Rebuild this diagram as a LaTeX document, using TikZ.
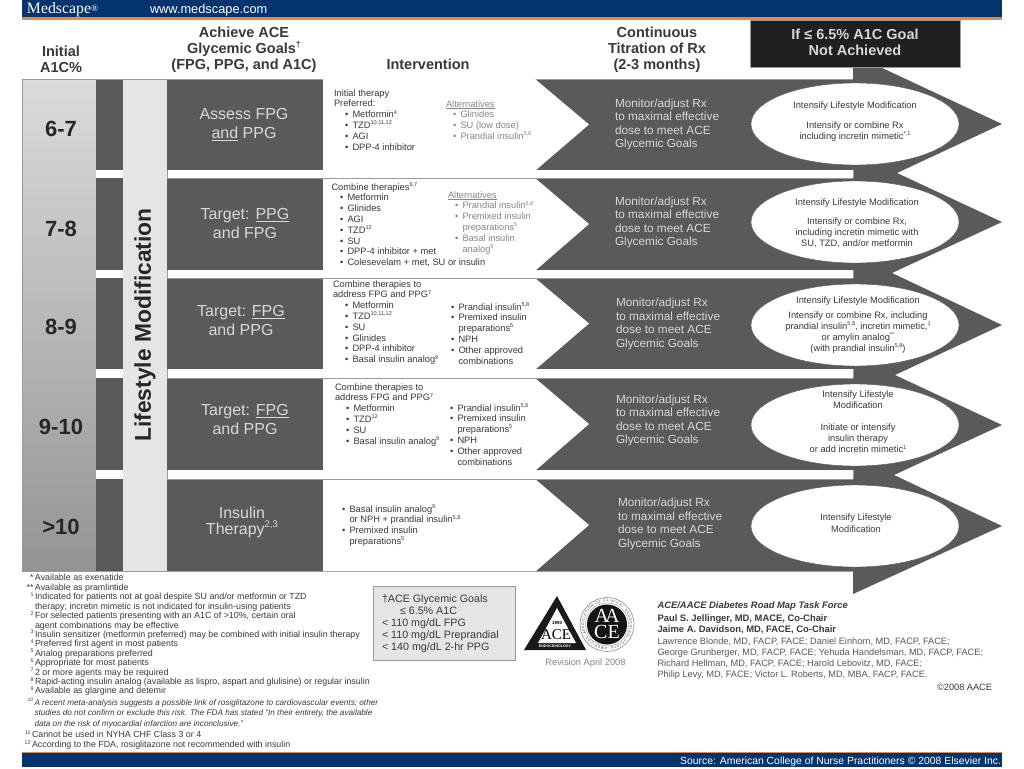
\documentclass[tikz,border=0pt]{standalone}
\usepackage{fontspec}
\setmainfont{Liberation Sans}
\newfontfamily\serifface{Liberation Serif}
\usetikzlibrary{shapes.geometric,decorations.text}
\definecolor{navy}{HTML}{04336E}
\definecolor{rust}{HTML}{E08A45}
\definecolor{slate}{HTML}{5A5A5A}
\definecolor{rim}{HTML}{9A9A9A}
\definecolor{ink}{HTML}{383838}
\definecolor{soft}{HTML}{858585}
\definecolor{pale}{HTML}{D8D8D8}
\newcommand{\sps}[1]{\raisebox{.4em}{\scalebox{.6}{#1}}}
\newcommand{\bu}{\makebox[7.5pt][l]{•}}
\newcommand{\ind}{\hspace*{7.5pt}}
\tikzset{
  every node/.style={inner sep=0pt,outer sep=0pt},
  head/.style={font=\fontsize{14.5}{16.2}\selectfont\bfseries,align=center,text=ink},
  lst/.style={font=\fontsize{9.3}{10.8}\selectfont,align=left,anchor=north west,text=ink,yshift=4.6pt,
    execute at begin node={\rule{0pt}{8pt}}},
  alt/.style={lst,text=soft},
  mon/.style={font=\fontsize{11.8}{13.45}\selectfont,align=left,anchor=north west,text=pale,yshift=4.8pt,
    execute at begin node={\rule{0pt}{9pt}}},
  goal/.style={font=\fontsize{16}{19}\selectfont,align=center,text=pale},
  lvl/.style={font=\fontsize{22}{24}\selectfont\bfseries,text=black!85},
  oval/.style={ellipse,fill=white,draw=slate,line width=.4pt,minimum width=208pt,minimum height=82pt},
  ovaltxt/.style={font=\fontsize{9.3}{11}\selectfont,align=center,text=ink},
  fnote/.style={font=\fontsize{8.87}{9.42}\selectfont,align=left,anchor=north west,text=ink,yshift=4.5pt,
    execute at begin node={\rule{0pt}{7.5pt}}},
  gapbar/.style={fill=white,draw=rim,line width=.8pt},
}
\begin{document}
\begin{tikzpicture}[x=1pt,y=-1pt]
\useasboundingbox (0,0) rectangle (1024,768);
% header and footer bars
\fill[navy] (22,0) rectangle (1002,17.5);
\fill[rust] (22,17.5) rectangle (1002,20);
\fill[navy] (22,753) rectangle (1002,767);
\fill[rust] (22,751.5) rectangle (1002,753);
\node[text=white,anchor=base west,font=\fontsize{15.8}{16}\serifface] (brand) at (27,13.5) {Medscape\raisebox{.1em}{\scalebox{.6}{®}}};
\node[text=white,anchor=base west,font=\fontsize{12.8}{13}\selectfont] (site) at (150,13.5) {www.medscape.com};
\node[text=white,anchor=base east,font=\fontsize{10.4}{12}\selectfont] (source) at (1001,764) {Source: American College of Nurse Practitioners © 2008 Elsevier Inc.};
% chain of arrows
\fill[slate] (167,79) -- (853,79) -- (853,67) -- (880,67) -- (1002,124) -- (897,173) -- (1002,222) -- (892,273) -- (1002,325) -- (895,375) -- (1002,425) -- (894,475) -- (1002,526) -- (853,594) -- (853,571) -- (167,571) -- cycle;
% left columns
\shade[top color=black!14,bottom color=black!42] (22,79) rectangle (95.5,571);
\fill[slate] (96,79) rectangle (122.7,571);
\fill[black!10] (123.3,79) rectangle (166.7,571);
\draw[rim,line width=.8pt] (22,79) -- (853,79);
\draw[rim,line width=.8pt] (22,571) -- (853,571);
\draw[rim,line width=.8pt] (22,79) -- (22,571);
% white chevrons
\foreach \t/\b in {79/170,178/270,278/369,378/470,479/571}{
  \pgfmathsetmacro{\m}{(\t+\b)/2}
  \fill[white] (323,\t) -- (535,\t) -- (589,\m) -- (536,\b) -- (323,\b) -- cycle;
}
% gaps between rows
\foreach \t/\b in {170/178,270/278,369/378,470/479}{
  \fill[white] (96,\t) rectangle (122.5,\b);
  \draw[gapbar] (853,\t) -- (167.5,\t) -- (167.5,\b) -- (853,\b);
  \fill[white] (168,\t+.4) rectangle (853,\b-.4);
  \draw[rim,line width=.8pt] (853,\t) -- (853,\b);
}
% black box
\fill[black!88,draw=rim,line width=.6pt] (750,20) rectangle (960,67);
% column heads
\node[head] (hA) at (61,59) {Initial\\A1C\%};
\node[head] (hB) at (244,50) {Achieve ACE\\Glycemic Goals\sps{†}\\(FPG, PPG, and A1C)};
\node[head] (hC) at (428,64) {Intervention};
\node[head] (hD) at (657,50) {Continuous\\Titration of Rx\\(2-3 months)};
\node[head,text=pale] (hE) at (855,42.5) {If ≤ 6.5\% A1C Goal\\Not Achieved};
% levels
\node[lvl] (l1) at (61,129) {6-7};
\node[lvl] (l2) at (61,229) {7-8};
\node[lvl] (l3) at (61,327) {8-9};
\node[lvl] (l4) at (61,427) {9-10};
\node[lvl] (l5) at (61,527) {>10};
\node[rotate=90,font=\fontsize{22.8}{24}\selectfont\bfseries,text=black!85] (life) at (145,325) {Lifestyle Modification};
% goals
\node[goal] (g1) at (244,124.5) {Assess FPG\\\underline{and} PPG};
\node[goal] (g2) at (245,223.5) {Target: \underline{PPG}\\and FPG};
\node[goal] (g3) at (241,320.5) {Target: \underline{FPG}\\and PPG};
\node[goal] (g4) at (245,419.5) {Target: \underline{FPG}\\and PPG};
\node[goal,font=\fontsize{16}{16}\selectfont] (g5) at (242,522) {Insulin\\Therapy\sps{2,3}};
% row 1
\node[lst] (r1a) at (334,94) {Initial therapy\\Preferred:\\
 \hspace*{11pt}\bu Metformin\sps{4}\\ \hspace*{11pt}\bu TZD\sps{10,11,12}\\ \hspace*{11pt}\bu AGI\\ \hspace*{11pt}\bu DPP-4 inhibitor};
\node[alt] (r1b) at (446,105) {\underline{Alternatives}\\
 \hspace*{7pt}\bu Glinides\\ \hspace*{7pt}\bu SU (low dose)\\ \hspace*{7pt}\bu Prandial insulin\sps{5,8}};
% row 2
\node[lst] (r2a) at (331.5,187) {Combine therapies\sps{6,7}\\
 \hspace*{8.5pt}\bu Metformin\\ \hspace*{8.5pt}\bu Glinides\\ \hspace*{8.5pt}\bu AGI\\ \hspace*{8.5pt}\bu TZD\sps{12}\\ \hspace*{8.5pt}\bu SU\\ \hspace*{8.5pt}\bu DPP-4 inhibitor + met\\ \hspace*{8.5pt}\bu Colesevelam + met, SU or insulin};
\node[alt] (r2b) at (448,196) {\underline{Alternatives}\\
 \hspace*{7pt}\bu Prandial insulin\sps{5,8}\\ \hspace*{7pt}\bu Premixed insulin\\ \hspace*{14.5pt}preparations\sps{5}\\ \hspace*{7pt}\bu Basal insulin\\ \hspace*{14.5pt}analog\sps{9}};
% row 3
\node[lst] (r3a) at (333,285) {Combine therapies to\\address FPG and PPG\sps{7}\\
 \hspace*{12pt}\bu Metformin\\ \hspace*{12pt}\bu TZD\sps{10,11,12}\\ \hspace*{12pt}\bu SU\\ \hspace*{12pt}\bu Glinides\\ \hspace*{12pt}\bu DPP-4 inhibitor\\ \hspace*{12pt}\bu Basal insulin analog\sps{9}};
\node[lst] (r3b) at (451,307) {\bu Prandial insulin\sps{5,8}\\ \bu Premixed insulin\\ \ind preparations\sps{5}\\ \bu NPH\\ \bu Other approved\\ \ind combinations};
% row 4
\node[lst] (r4a) at (335,388) {Combine therapies to\\address FPG and PPG\sps{7}\\
 \hspace*{11pt}\bu Metformin\\ \hspace*{11pt}\bu TZD\sps{12}\\ \hspace*{11pt}\bu SU\\ \hspace*{11pt}\bu Basal insulin analog\sps{9}};
\node[lst] (r4b) at (450,408) {\bu Prandial insulin\sps{5,8}\\ \bu Premixed insulin\\ \ind preparations\sps{5}\\ \bu NPH\\ \bu Other approved\\ \ind combinations};
% row 5
\node[lst] (r5a) at (342,509) {\bu Basal insulin analog\sps{9}\\ \ind or NPH + prandial insulin\sps{5,8}\\ \bu Premixed insulin\\ \ind preparations\sps{5}};
% monitor
\node[mon] (m1) at (615,103.5) {Monitor/adjust Rx\\to maximal effective\\dose to meet ACE\\Glycemic Goals};
\node[mon] (m2) at (615,201.5) {Monitor/adjust Rx\\to maximal effective\\dose to meet ACE\\Glycemic Goals};
\node[mon] (m3) at (616,303) {Monitor/adjust Rx\\to maximal effective\\dose to meet ACE\\Glycemic Goals};
\node[mon] (m4) at (616,399.5) {Monitor/adjust Rx\\to maximal effective\\dose to meet ACE\\Glycemic Goals};
\node[mon] (m5) at (618,503) {Monitor/adjust Rx\\to maximal effective\\dose to meet ACE\\Glycemic Goals};
% ovals
\node[oval] (o1) at (855,124) {};
\node[oval] (o2) at (855,222) {};
\node[oval] (o3) at (855,325) {};
\node[oval] (o4) at (855,425) {};
\node[oval] (o5) at (855,526) {};
\node[ovaltxt] (t1) at (855,121.5) {Intensify Lifestyle Modification\\[9pt]Intensify or combine Rx\\including incretin mimetic\sps{*,1}};
\node[ovaltxt] (t2) at (857,223) {Intensify Lifestyle Modification\\[8pt]Intensify or combine Rx,\\including incretin mimetic with\\SU, TZD, and/or metformin};
\node[ovaltxt] (t3) at (858,325) {Intensify Lifestyle Modification\\[4pt]Intensify or combine Rx, including\\prandial insulin\sps{5,8}, incretin mimetic,\sps{1}\\or amylin analog\sps{**}\\(with prandial insulin\sps{5,8})};
\node[ovaltxt] (t4) at (858,422) {Intensify Lifestyle\\Modification\\[11pt]Initiate or intensify\\insulin therapy\\or add incretin mimetic\sps{1}};
\node[ovaltxt,font=\fontsize{9.3}{12}\selectfont] (t5) at (856,523) {Intensify Lifestyle\\Modification};
% footnotes
\node[fnote] (f1) at (35,579) {\llap{*\,}Available as exenatide\\
\llap{**\,}Available as pramlintide\\
\llap{\sps{1}\,}Indicated for patients not at goal despite SU and/or metformin or TZD\\
therapy; incretin mimetic is not indicated for insulin-using patients\\
\llap{\sps{2}\,}For selected patients presenting with an A1C of >10\%, certain oral\\
agent combinations may be effective\\
\llap{\sps{3}\,}Insulin sensitizer (metformin preferred) may be combined with initial insulin therapy\\
\llap{\sps{4}\,}Preferred first agent in most patients\\
\llap{\sps{5}\,}Analog preparations preferred\\
\llap{\sps{6}\,}Appropriate for most patients\\
\llap{\sps{7}\,}2 or more agents may be required\\
\llap{\sps{8}\,}Rapid-acting insulin analog (available as lispro, aspart and glulisine) or regular insulin\\
\llap{\sps{9}\,}Available as glargine and detemir};
\node[fnote,font=\fontsize{8.2}{10.4}\selectfont\itshape] (f2) at (34.5,703) {\llap{\sps{10}\,}A recent meta-analysis suggests a possible link of rosiglitazone to cardiovascular events; other\\
studies do not confirm or exclude this risk. The FDA has stated “In their entirety, the available\\
data on the risk of myocardial infarction are inconclusive.”};
\node[fnote,font=\fontsize{8.85}{10}\selectfont] (f3) at (32,735) {\llap{\sps{11}\,}Cannot be used in NYHA CHF Class 3 or 4\\
\llap{\sps{12}\,}According to the FDA, rosiglitazone not recommended with insulin};
% goals box
\node[draw=rim,fill=black!10,line width=1pt,minimum width=142pt,minimum height=74pt] (box) at (444,623) {};
\node[font=\fontsize{10.7}{11.85}\selectfont,align=left,text=ink,anchor=north west] (boxt) at (382,595) {†ACE Glycemic Goals\\\hspace*{18pt}≤ 6.5\% A1C\\< 110 mg/dL FPG\\< 110 mg/dL Preprandial\\< 140 mg/dL 2-hr PPG};
% ACE logo
\fill[black!90] (557,596) -- (586,650) -- (524,650) -- cycle;
\fill[white] (557,608) -- (576,643) -- (538,643) -- cycle;
\node[font=\fontsize{15}{15}\serifface,text=black] (aceT) at (556,635) {ACE};
\node[font=\fontsize{4.5}{5}\selectfont\bfseries,text=black] (ace93) at (557,623) {1993};
\node[font=\fontsize{3.6}{4}\selectfont\bfseries,text=white] (aceB) at (555,646.5) {ENDOCRINOLOGY};
\node[font=\fontsize{3}{4}\selectfont,text=white,rotate=60] (aceL) at (543,617) {AMERICAN};
\node[font=\fontsize{3}{4}\selectfont,text=white,rotate=-60] (aceR) at (571,617) {COLLEGE OF};
% AACE seal
\draw[rim,line width=.7pt] (607,624.5) circle (27);
\draw[rim,line width=.4pt] (607,624.5) circle (21.5);
\begin{scope}[shift={(607,624.5)},y=1pt]
\path[decorate,decoration={text along path,text align={fit to path},raise=-1.2pt,
  text={|\fontsize{3.4}{4}\selectfont\color{ink}|AMERICAN ASSOCIATION OF CLINICAL ENDOCRINOLOGISTS}}]
  (0,-24) arc[start angle=-90,delta angle=-350,radius=24];
\end{scope}
\fill[black!92] (607,624.5) circle (20);
\node[font=\fontsize{20}{16.5}\serifface,text=white,align=center] (seal) at (607,624) {A\kern-4pt A\\CE};
\node[font=\fontsize{9.3}{11}\selectfont,text=soft] (rev) at (585.5,663) {Revision April 2008};
% task force
\node[font=\fontsize{9.4}{11}\selectfont\bfseries\itshape,text=ink,anchor=base west] (tf) at (657.5,608) {ACE/AACE Diabetes Road Map Task Force};
\node[font=\fontsize{9.4}{10.9}\selectfont\bfseries,text=ink,align=left,anchor=north west] (co) at (657.5,615) {Paul S. Jellinger, MD, MACE, Co-Chair\\Jaime A. Davidson, MD, FACE, Co-Chair};
\node[font=\fontsize{9.2}{10.9}\selectfont,text=ink!85,align=left,anchor=north west] (mem) at (657.5,638) {Lawrence Blonde, MD, FACP, FACE; Daniel Einhorn, MD, FACP, FACE;\\George Grunberger, MD, FACP, FACE; Yehuda Handelsman, MD, FACP, FACE;\\Richard Hellman, MD, FACP, FACE; Harold Lebovitz, MD, FACE;\\Philip Levy, MD, FACE; Victor L. Roberts, MD, MBA, FACP, FACE.};
\node[font=\fontsize{9.2}{10}\selectfont,text=ink,anchor=base east] (copy) at (992,690) {©2008 AACE};
\end{tikzpicture}
\end{document}
